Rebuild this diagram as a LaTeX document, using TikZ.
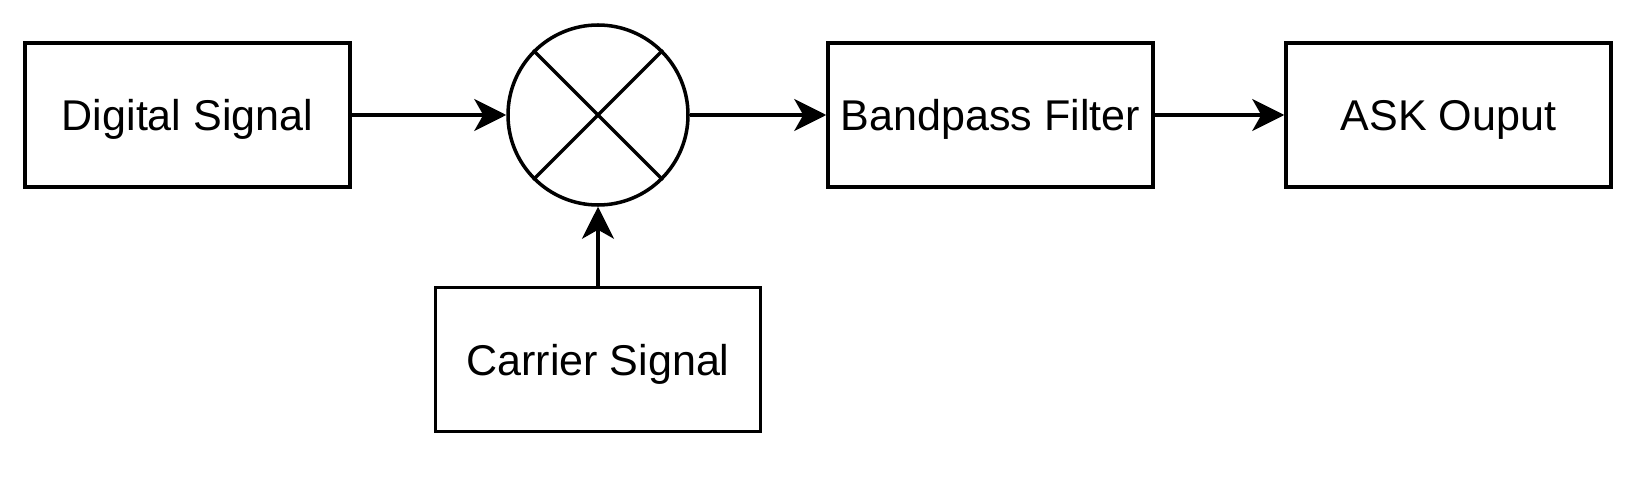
\documentclass[tikz,border=0pt]{standalone}
\usepackage{fontspec}
\setmainfont{Liberation Sans}
\usetikzlibrary{arrows.meta}
\newcommand{\drawblock}{\node[draw,rectangle,line width=2pt,minimum width=6.5cm,minimum height=2.88cm,text depth=0pt,font=\fontsize{24.5}{28}\selectfont]}
\newcommand{\drawmixer}{\node[draw,circle,line width=2pt,minimum size=3.6cm,inner sep=0]}

\begin{document}
\begin{tikzpicture}[>={Stealth[length=0.64cm,width=0.64cm,inset=0.18cm]}]
\useasboundingbox (0,0) rectangle (32.66,-9.82);
%ASK transmitter chain
\drawblock (dig) at (3.75,-2.30) {Digital Signal};
\drawmixer (mix) at (11.96,-2.30) {};
\drawblock (bpf) at (19.81,-2.30) {Bandpass Filter};
\drawblock (ask) at (28.97,-2.30) {ASK Ouput};
\drawblock (car) at (11.96,-7.19) {Carrier Signal};

\draw[line width=2pt] (mix.north west) to (mix.south east);
\draw[line width=2pt] (mix.north east) to (mix.south west);

\draw[->, line width=2pt] (dig) to (mix);
\draw[->, line width=2pt] (mix) to (bpf);
\draw[->, line width=2pt] (bpf) to (ask);
\draw[->, line width=2pt] (car) to (mix);
\end{tikzpicture}
\end{document}
